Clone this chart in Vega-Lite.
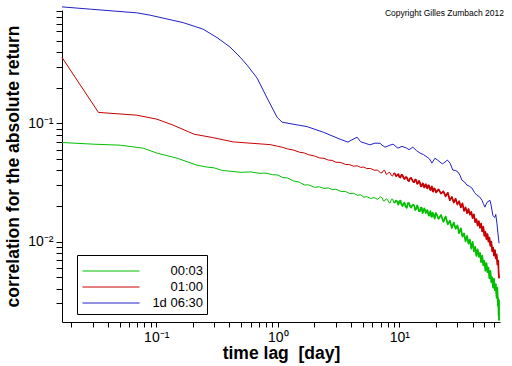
{
  "$schema": "https://vega.github.io/schema/vega-lite/v6.json",
  "width": 438,
  "height": 312,
  "autosize": {"type": "none"},
  "padding": {"left": 62, "top": 10, "right": 12, "bottom": 44},
  "background": "white",
  "config": {"view": {"stroke": null}, "font": "Liberation Sans"},
  "title": {"text": "Copyright Gilles Zumbach 2012", "anchor": "end", "frame": "group", "orient": "top", "fontSize": 8.5, "fontWeight": "normal", "font": "Liberation Sans", "color": "black", "baseline": "alphabetic", "offset": 0, "dy": 21, "dx": 4},
  "data": {"values": [
    {"s": "00:03", "t": 0.0168, "v": 0.069},
    {"s": "00:03", "t": 0.0303, "v": 0.0668},
    {"s": "00:03", "t": 0.0506, "v": 0.0655},
    {"s": "00:03", "t": 0.0781, "v": 0.0618},
    {"s": "00:03", "t": 0.102, "v": 0.056},
    {"s": "00:03", "t": 0.149, "v": 0.0508},
    {"s": "00:03", "t": 0.217, "v": 0.0443},
    {"s": "00:03", "t": 0.263, "v": 0.0427},
    {"s": "00:03", "t": 0.3, "v": 0.0421},
    {"s": "00:03", "t": 0.35, "v": 0.04},
    {"s": "00:03", "t": 0.4, "v": 0.0395},
    {"s": "00:03", "t": 0.5, "v": 0.0386},
    {"s": "00:03", "t": 0.6, "v": 0.0389},
    {"s": "00:03", "t": 0.7, "v": 0.0379},
    {"s": "00:03", "t": 0.8, "v": 0.038},
    {"s": "00:03", "t": 0.9, "v": 0.0369},
    {"s": "00:03", "t": 1.0, "v": 0.0366},
    {"s": "00:03", "t": 1.1, "v": 0.0348},
    {"s": "00:03", "t": 1.2, "v": 0.0346},
    {"s": "00:03", "t": 1.35, "v": 0.0326},
    {"s": "00:03", "t": 1.5, "v": 0.0319},
    {"s": "00:03", "t": 1.65, "v": 0.0302},
    {"s": "00:03", "t": 1.8, "v": 0.0302},
    {"s": "00:03", "t": 2.0, "v": 0.0288},
    {"s": "00:03", "t": 2.2, "v": 0.0291},
    {"s": "00:03", "t": 2.4, "v": 0.0282},
    {"s": "00:03", "t": 2.6, "v": 0.0285},
    {"s": "00:03", "t": 2.8, "v": 0.0276},
    {"s": "00:03", "t": 3.0, "v": 0.0278},
    {"s": "00:03", "t": 3.3, "v": 0.0266},
    {"s": "00:03", "t": 3.6, "v": 0.0266},
    {"s": "00:03", "t": 3.9, "v": 0.0255},
    {"s": "00:03", "t": 4.2, "v": 0.0257},
    {"s": "00:03", "t": 4.5, "v": 0.0247},
    {"s": "00:03", "t": 4.8, "v": 0.0249},
    {"s": "00:03", "t": 5.1, "v": 0.0238},
    {"s": "00:03", "t": 5.4, "v": 0.024},
    {"s": "00:03", "t": 5.8, "v": 0.0232},
    {"s": "00:03", "t": 6.2, "v": 0.0236},
    {"s": "00:03", "t": 6.6, "v": 0.0228},
    {"s": "00:03", "t": 7.0, "v": 0.02392},
    {"s": "00:03", "t": 7.2, "v": 0.02359},
    {"s": "00:03", "t": 7.4, "v": 0.02207},
    {"s": "00:03", "t": 7.6, "v": 0.02222},
    {"s": "00:03", "t": 7.8, "v": 0.02308},
    {"s": "00:03", "t": 8.0, "v": 0.02264},
    {"s": "00:03", "t": 8.2, "v": 0.02141},
    {"s": "00:03", "t": 8.4, "v": 0.02129},
    {"s": "00:03", "t": 8.6, "v": 0.02285},
    {"s": "00:03", "t": 8.8, "v": 0.02293},
    {"s": "00:03", "t": 9.0, "v": 0.02138},
    {"s": "00:03", "t": 9.2, "v": 0.02148},
    {"s": "00:03", "t": 9.4, "v": 0.02227},
    {"s": "00:03", "t": 9.6, "v": 0.02189},
    {"s": "00:03", "t": 9.8, "v": 0.02057},
    {"s": "00:03", "t": 10.0, "v": 0.02186},
    {"s": "00:03", "t": 10.2, "v": 0.02226},
    {"s": "00:03", "t": 10.4, "v": 0.02058},
    {"s": "00:03", "t": 10.6, "v": 0.01998},
    {"s": "00:03", "t": 10.8, "v": 0.02101},
    {"s": "00:03", "t": 11, "v": 0.02138},
    {"s": "00:03", "t": 11.25, "v": 0.01976},
    {"s": "00:03", "t": 11.5, "v": 0.01933},
    {"s": "00:03", "t": 11.75, "v": 0.02124},
    {"s": "00:03", "t": 12, "v": 0.0212},
    {"s": "00:03", "t": 12.25, "v": 0.01988},
    {"s": "00:03", "t": 12.5, "v": 0.0194},
    {"s": "00:03", "t": 12.75, "v": 0.02023},
    {"s": "00:03", "t": 13, "v": 0.02057},
    {"s": "00:03", "t": 13.25, "v": 0.02017},
    {"s": "00:03", "t": 13.5, "v": 0.01849},
    {"s": "00:03", "t": 13.75, "v": 0.01894},
    {"s": "00:03", "t": 14, "v": 0.02026},
    {"s": "00:03", "t": 14.25, "v": 0.01927},
    {"s": "00:03", "t": 14.5, "v": 0.01812},
    {"s": "00:03", "t": 14.75, "v": 0.01808},
    {"s": "00:03", "t": 15, "v": 0.01932},
    {"s": "00:03", "t": 15.25, "v": 0.01942},
    {"s": "00:03", "t": 15.5, "v": 0.01744},
    {"s": "00:03", "t": 15.75, "v": 0.01815},
    {"s": "00:03", "t": 16, "v": 0.0191},
    {"s": "00:03", "t": 16.25, "v": 0.01843},
    {"s": "00:03", "t": 16.5, "v": 0.01745},
    {"s": "00:03", "t": 16.75, "v": 0.01835},
    {"s": "00:03", "t": 17, "v": 0.01847},
    {"s": "00:03", "t": 17.25, "v": 0.01722},
    {"s": "00:03", "t": 17.5, "v": 0.01658},
    {"s": "00:03", "t": 17.75, "v": 0.01749},
    {"s": "00:03", "t": 18, "v": 0.01814},
    {"s": "00:03", "t": 18.25, "v": 0.01639},
    {"s": "00:03", "t": 18.5, "v": 0.01619},
    {"s": "00:03", "t": 18.75, "v": 0.01758},
    {"s": "00:03", "t": 19, "v": 0.01725},
    {"s": "00:03", "t": 19.25, "v": 0.01647},
    {"s": "00:03", "t": 19.5, "v": 0.01566},
    {"s": "00:03", "t": 19.75, "v": 0.01683},
    {"s": "00:03", "t": 20, "v": 0.01748},
    {"s": "00:03", "t": 21, "v": 0.01561},
    {"s": "00:03", "t": 22, "v": 0.01682},
    {"s": "00:03", "t": 23, "v": 0.01471},
    {"s": "00:03", "t": 24, "v": 0.01635},
    {"s": "00:03", "t": 25, "v": 0.01403},
    {"s": "00:03", "t": 26, "v": 0.01504},
    {"s": "00:03", "t": 27, "v": 0.01304},
    {"s": "00:03", "t": 28, "v": 0.01453},
    {"s": "00:03", "t": 29, "v": 0.01285},
    {"s": "00:03", "t": 30, "v": 0.01373},
    {"s": "00:03", "t": 31, "v": 0.01177},
    {"s": "00:03", "t": 32, "v": 0.01298},
    {"s": "00:03", "t": 33, "v": 0.01104},
    {"s": "00:03", "t": 34, "v": 0.01173},
    {"s": "00:03", "t": 35, "v": 0.01006},
    {"s": "00:03", "t": 36, "v": 0.01118},
    {"s": "00:03", "t": 37, "v": 0.00961},
    {"s": "00:03", "t": 38, "v": 0.01041},
    {"s": "00:03", "t": 39, "v": 0.00874},
    {"s": "00:03", "t": 40, "v": 0.00995},
    {"s": "00:03", "t": 41, "v": 0.00828},
    {"s": "00:03", "t": 42, "v": 0.00903},
    {"s": "00:03", "t": 43, "v": 0.00759},
    {"s": "00:03", "t": 44, "v": 0.00861},
    {"s": "00:03", "t": 45, "v": 0.00744},
    {"s": "00:03", "t": 46, "v": 0.00803},
    {"s": "00:03", "t": 47, "v": 0.0067},
    {"s": "00:03", "t": 48, "v": 0.00761},
    {"s": "00:03", "t": 49, "v": 0.0063},
    {"s": "00:03", "t": 50, "v": 0.00689},
    {"s": "00:03", "t": 51, "v": 0.00567},
    {"s": "00:03", "t": 52, "v": 0.00657},
    {"s": "00:03", "t": 53, "v": 0.00552},
    {"s": "00:03", "t": 54, "v": 0.00604},
    {"s": "00:03", "t": 55, "v": 0.00489},
    {"s": "00:03", "t": 56, "v": 0.00565},
    {"s": "00:03", "t": 57, "v": 0.00453},
    {"s": "00:03", "t": 58, "v": 0.00498},
    {"s": "00:03", "t": 59, "v": 0.00407},
    {"s": "00:03", "t": 60, "v": 0.00484},
    {"s": "00:03", "t": 61, "v": 0.00388},
    {"s": "00:03", "t": 62, "v": 0.00437},
    {"s": "00:03", "t": 63, "v": 0.00334},
    {"s": "00:03", "t": 64, "v": 0.00407},
    {"s": "00:03", "t": 64.5, "v": 0.00287},
    {"s": "00:03", "t": 65, "v": 0.00331},
    {"s": "00:03", "t": 65.5, "v": 0.00235},
    {"s": "00:03", "t": 65.8, "v": 0.0032},
    {"s": "00:03", "t": 66, "v": 0.00215},
    {"s": "01:00", "t": 0.0168, "v": 0.362},
    {"s": "01:00", "t": 0.0335, "v": 0.124},
    {"s": "01:00", "t": 0.0693, "v": 0.1175},
    {"s": "01:00", "t": 0.1013, "v": 0.1087},
    {"s": "01:00", "t": 0.138, "v": 0.0967},
    {"s": "01:00", "t": 0.2053, "v": 0.0811},
    {"s": "01:00", "t": 0.2944, "v": 0.0758},
    {"s": "01:00", "t": 0.43, "v": 0.0698},
    {"s": "01:00", "t": 0.866, "v": 0.0662},
    {"s": "01:00", "t": 1.0, "v": 0.0641},
    {"s": "01:00", "t": 1.1, "v": 0.0627},
    {"s": "01:00", "t": 1.2, "v": 0.0609},
    {"s": "01:00", "t": 1.35, "v": 0.0595},
    {"s": "01:00", "t": 1.5, "v": 0.0572},
    {"s": "01:00", "t": 1.65, "v": 0.0563},
    {"s": "01:00", "t": 1.8, "v": 0.0543},
    {"s": "01:00", "t": 2.0, "v": 0.0531},
    {"s": "01:00", "t": 2.2, "v": 0.0511},
    {"s": "01:00", "t": 2.4, "v": 0.0507},
    {"s": "01:00", "t": 2.6, "v": 0.049},
    {"s": "01:00", "t": 2.8, "v": 0.0487},
    {"s": "01:00", "t": 3.0, "v": 0.047},
    {"s": "01:00", "t": 3.3, "v": 0.0467},
    {"s": "01:00", "t": 3.6, "v": 0.045},
    {"s": "01:00", "t": 3.9, "v": 0.0448},
    {"s": "01:00", "t": 4.2, "v": 0.0435},
    {"s": "01:00", "t": 4.5, "v": 0.0438},
    {"s": "01:00", "t": 4.8, "v": 0.0425},
    {"s": "01:00", "t": 5.1, "v": 0.0428},
    {"s": "01:00", "t": 5.4, "v": 0.0415},
    {"s": "01:00", "t": 5.8, "v": 0.0416},
    {"s": "01:00", "t": 6.2, "v": 0.0402},
    {"s": "01:00", "t": 6.6, "v": 0.0403},
    {"s": "01:00", "t": 7.0, "v": 0.0383},
    {"s": "01:00", "t": 7.2, "v": 0.0382},
    {"s": "01:00", "t": 7.4, "v": 0.04},
    {"s": "01:00", "t": 7.6, "v": 0.0398},
    {"s": "01:00", "t": 7.8, "v": 0.037},
    {"s": "01:00", "t": 8.0, "v": 0.0377},
    {"s": "01:00", "t": 8.2, "v": 0.0385},
    {"s": "01:00", "t": 8.4, "v": 0.0382},
    {"s": "01:00", "t": 8.6, "v": 0.0362},
    {"s": "01:00", "t": 8.8, "v": 0.0359},
    {"s": "01:00", "t": 9.0, "v": 0.038},
    {"s": "01:00", "t": 9.2, "v": 0.0375},
    {"s": "01:00", "t": 9.4, "v": 0.0358},
    {"s": "01:00", "t": 9.6, "v": 0.0366},
    {"s": "01:00", "t": 9.8, "v": 0.0373},
    {"s": "01:00", "t": 10.0, "v": 0.0353},
    {"s": "01:00", "t": 10.2, "v": 0.0349},
    {"s": "01:00", "t": 10.4, "v": 0.0368},
    {"s": "01:00", "t": 10.6, "v": 0.0366},
    {"s": "01:00", "t": 10.8, "v": 0.0348},
    {"s": "01:00", "t": 11, "v": 0.0338},
    {"s": "01:00", "t": 11.25, "v": 0.0352},
    {"s": "01:00", "t": 11.5, "v": 0.035},
    {"s": "01:00", "t": 11.75, "v": 0.033},
    {"s": "01:00", "t": 12, "v": 0.0325},
    {"s": "01:00", "t": 12.25, "v": 0.0344},
    {"s": "01:00", "t": 12.5, "v": 0.0346},
    {"s": "01:00", "t": 12.75, "v": 0.0333},
    {"s": "01:00", "t": 13, "v": 0.032},
    {"s": "01:00", "t": 13.25, "v": 0.0319},
    {"s": "01:00", "t": 13.5, "v": 0.0336},
    {"s": "01:00", "t": 13.75, "v": 0.0332},
    {"s": "01:00", "t": 14, "v": 0.0308},
    {"s": "01:00", "t": 14.25, "v": 0.0313},
    {"s": "01:00", "t": 14.5, "v": 0.0327},
    {"s": "01:00", "t": 14.75, "v": 0.0316},
    {"s": "01:00", "t": 15, "v": 0.0294},
    {"s": "01:00", "t": 15.25, "v": 0.0295},
    {"s": "01:00", "t": 15.5, "v": 0.0311},
    {"s": "01:00", "t": 15.75, "v": 0.0308},
    {"s": "01:00", "t": 16, "v": 0.0287},
    {"s": "01:00", "t": 16.25, "v": 0.0298},
    {"s": "01:00", "t": 16.5, "v": 0.0306},
    {"s": "01:00", "t": 16.75, "v": 0.0287},
    {"s": "01:00", "t": 17, "v": 0.0283},
    {"s": "01:00", "t": 17.25, "v": 0.0299},
    {"s": "01:00", "t": 17.5, "v": 0.0299},
    {"s": "01:00", "t": 17.75, "v": 0.0282},
    {"s": "01:00", "t": 18, "v": 0.0273},
    {"s": "01:00", "t": 18.25, "v": 0.0285},
    {"s": "01:00", "t": 18.5, "v": 0.0293},
    {"s": "01:00", "t": 18.75, "v": 0.0269},
    {"s": "01:00", "t": 19, "v": 0.0265},
    {"s": "01:00", "t": 19.25, "v": 0.0282},
    {"s": "01:00", "t": 19.5, "v": 0.0281},
    {"s": "01:00", "t": 19.75, "v": 0.0275},
    {"s": "01:00", "t": 20, "v": 0.0261},
    {"s": "01:00", "t": 21, "v": 0.0277},
    {"s": "01:00", "t": 22, "v": 0.0255},
    {"s": "01:00", "t": 23, "v": 0.0266},
    {"s": "01:00", "t": 24, "v": 0.0242},
    {"s": "01:00", "t": 25, "v": 0.0259},
    {"s": "01:00", "t": 26, "v": 0.0224},
    {"s": "01:00", "t": 27, "v": 0.0239},
    {"s": "01:00", "t": 28, "v": 0.0214},
    {"s": "01:00", "t": 29, "v": 0.0231},
    {"s": "01:00", "t": 30, "v": 0.0206},
    {"s": "01:00", "t": 31, "v": 0.022},
    {"s": "01:00", "t": 32, "v": 0.0195},
    {"s": "01:00", "t": 33, "v": 0.0211},
    {"s": "01:00", "t": 34, "v": 0.0182},
    {"s": "01:00", "t": 35, "v": 0.0195},
    {"s": "01:00", "t": 36, "v": 0.0174},
    {"s": "01:00", "t": 37, "v": 0.0189},
    {"s": "01:00", "t": 38, "v": 0.0169},
    {"s": "01:00", "t": 39, "v": 0.0179},
    {"s": "01:00", "t": 40, "v": 0.0158},
    {"s": "01:00", "t": 41, "v": 0.017},
    {"s": "01:00", "t": 42, "v": 0.0146},
    {"s": "01:00", "t": 43, "v": 0.0155},
    {"s": "01:00", "t": 44, "v": 0.0137},
    {"s": "01:00", "t": 45, "v": 0.0149},
    {"s": "01:00", "t": 46, "v": 0.0131},
    {"s": "01:00", "t": 47, "v": 0.0142},
    {"s": "01:00", "t": 48, "v": 0.0122},
    {"s": "01:00", "t": 49, "v": 0.0134},
    {"s": "01:00", "t": 50, "v": 0.0112},
    {"s": "01:00", "t": 51, "v": 0.0121},
    {"s": "01:00", "t": 52, "v": 0.0105},
    {"s": "01:00", "t": 53, "v": 0.0116},
    {"s": "01:00", "t": 54, "v": 0.01},
    {"s": "01:00", "t": 55, "v": 0.0108},
    {"s": "01:00", "t": 56, "v": 0.0092},
    {"s": "01:00", "t": 57, "v": 0.01},
    {"s": "01:00", "t": 58, "v": 0.0083},
    {"s": "01:00", "t": 59, "v": 0.0089},
    {"s": "01:00", "t": 60, "v": 0.0076},
    {"s": "01:00", "t": 61, "v": 0.0085},
    {"s": "01:00", "t": 62, "v": 0.0072},
    {"s": "01:00", "t": 63, "v": 0.0078},
    {"s": "01:00", "t": 64, "v": 0.0064},
    {"s": "01:00", "t": 65, "v": 0.0069},
    {"s": "01:00", "t": 65.5, "v": 0.0054},
    {"s": "01:00", "t": 66, "v": 0.0049},
    {"s": "1d 06:30", "t": 0.0168, "v": 0.969},
    {"s": "1d 06:30", "t": 0.0287, "v": 0.927},
    {"s": "1d 06:30", "t": 0.0693, "v": 0.863},
    {"s": "1d 06:30", "t": 0.0893, "v": 0.824},
    {"s": "1d 06:30", "t": 0.1667, "v": 0.713},
    {"s": "1d 06:30", "t": 0.243, "v": 0.628},
    {"s": "1d 06:30", "t": 0.317, "v": 0.532},
    {"s": "1d 06:30", "t": 0.405, "v": 0.443},
    {"s": "1d 06:30", "t": 0.49, "v": 0.364},
    {"s": "1d 06:30", "t": 0.56, "v": 0.311},
    {"s": "1d 06:30", "t": 0.676, "v": 0.242},
    {"s": "1d 06:30", "t": 0.817, "v": 0.164},
    {"s": "1d 06:30", "t": 0.986, "v": 0.113},
    {"s": "1d 06:30", "t": 1.084, "v": 0.1026},
    {"s": "1d 06:30", "t": 1.336, "v": 0.0986},
    {"s": "1d 06:30", "t": 1.742, "v": 0.094},
    {"s": "1d 06:30", "t": 2.36, "v": 0.0844},
    {"s": "1d 06:30", "t": 3.25, "v": 0.0736},
    {"s": "1d 06:30", "t": 3.78, "v": 0.0695},
    {"s": "1d 06:30", "t": 4.0, "v": 0.072},
    {"s": "1d 06:30", "t": 4.49, "v": 0.0766},
    {"s": "1d 06:30", "t": 4.8, "v": 0.07},
    {"s": "1d 06:30", "t": 5.21, "v": 0.0681},
    {"s": "1d 06:30", "t": 5.7, "v": 0.066},
    {"s": "1d 06:30", "t": 6.31, "v": 0.0681},
    {"s": "1d 06:30", "t": 6.93, "v": 0.068},
    {"s": "1d 06:30", "t": 7.2, "v": 0.0655},
    {"s": "1d 06:30", "t": 7.62, "v": 0.063},
    {"s": "1d 06:30", "t": 8.2, "v": 0.065},
    {"s": "1d 06:30", "t": 8.86, "v": 0.0668},
    {"s": "1d 06:30", "t": 9.73, "v": 0.0618},
    {"s": "1d 06:30", "t": 10.5, "v": 0.064},
    {"s": "1d 06:30", "t": 11.5, "v": 0.0618},
    {"s": "1d 06:30", "t": 12.0, "v": 0.06},
    {"s": "1d 06:30", "t": 12.9, "v": 0.063},
    {"s": "1d 06:30", "t": 13.8, "v": 0.059},
    {"s": "1d 06:30", "t": 14.8, "v": 0.0561},
    {"s": "1d 06:30", "t": 15.8, "v": 0.0545},
    {"s": "1d 06:30", "t": 16.9, "v": 0.0519},
    {"s": "1d 06:30", "t": 17.7, "v": 0.05},
    {"s": "1d 06:30", "t": 18.5, "v": 0.0462},
    {"s": "1d 06:30", "t": 19.6, "v": 0.0508},
    {"s": "1d 06:30", "t": 20.6, "v": 0.049},
    {"s": "1d 06:30", "t": 21.6, "v": 0.0471},
    {"s": "1d 06:30", "t": 22.6, "v": 0.0455},
    {"s": "1d 06:30", "t": 23.7, "v": 0.0471},
    {"s": "1d 06:30", "t": 24.8, "v": 0.049},
    {"s": "1d 06:30", "t": 26.1, "v": 0.0462},
    {"s": "1d 06:30", "t": 27.5, "v": 0.0403},
    {"s": "1d 06:30", "t": 29, "v": 0.04},
    {"s": "1d 06:30", "t": 30.3, "v": 0.0388},
    {"s": "1d 06:30", "t": 31.5, "v": 0.0365},
    {"s": "1d 06:30", "t": 32.7, "v": 0.0331},
    {"s": "1d 06:30", "t": 34.3, "v": 0.032},
    {"s": "1d 06:30", "t": 35.9, "v": 0.0301},
    {"s": "1d 06:30", "t": 37.5, "v": 0.0295},
    {"s": "1d 06:30", "t": 39.5, "v": 0.0284},
    {"s": "1d 06:30", "t": 41.5, "v": 0.026},
    {"s": "1d 06:30", "t": 43.4, "v": 0.0247},
    {"s": "1d 06:30", "t": 45.5, "v": 0.024},
    {"s": "1d 06:30", "t": 47.8, "v": 0.0224},
    {"s": "1d 06:30", "t": 49, "v": 0.021},
    {"s": "1d 06:30", "t": 50.5, "v": 0.0196},
    {"s": "1d 06:30", "t": 52.5, "v": 0.0215},
    {"s": "1d 06:30", "t": 55.5, "v": 0.0224},
    {"s": "1d 06:30", "t": 57, "v": 0.02},
    {"s": "1d 06:30", "t": 58.7, "v": 0.0167},
    {"s": "1d 06:30", "t": 60.8, "v": 0.016},
    {"s": "1d 06:30", "t": 62, "v": 0.017},
    {"s": "1d 06:30", "t": 63.4, "v": 0.0143},
    {"s": "1d 06:30", "t": 64.6, "v": 0.0118},
    {"s": "1d 06:30", "t": 66, "v": 0.0097}
  ]},
  "encoding": {
    "x": {
      "field": "t", "type": "quantitative",
      "scale": {"type": "log", "domain": [0.0168, 67.2], "nice": false},
      "axis": {
        "title": "time lag\u00a0 [day]",
        "values": [0.02, 0.03, 0.04, 0.05, 0.06, 0.07, 0.08, 0.09, 0.1, 0.2, 0.3, 0.4, 0.5, 0.6, 0.7, 0.8, 0.9, 1, 2, 3, 4, 5, 6, 7, 8, 9, 10, 20, 30, 40, 50, 60],
        "labelExpr": "datum.value == 0.1 ? '10⁻¹' : datum.value == 1 ? '10⁰' : datum.value == 10 ? '10¹' : ''",
        "grid": false, "ticks": true, "tickSize": 5, "tickWidth": 1, "tickColor": "black", "tickOpacity": 1,
        "domain": true, "domainColor": "black", "domainWidth": 1,
        "labelColor": "black", "labelFont": "Liberation Sans", "labelFontSize": 14, "labelPadding": 3,
        "labelOverlap": false, "labelFlush": false,
        "titleFont": "Liberation Sans", "titleFontSize": 17.5, "titleFontWeight": "bold", "titleColor": "black",
        "titleBaseline": "alphabetic", "titleY": 36.5, "titleX": 219
      }
    },
    "y": {
      "field": "v", "type": "quantitative",
      "scale": {"type": "log", "domain": [0.00209, 0.912], "nice": false},
      "axis": {
        "title": "correlation for the absolute return",
        "values": [0.003, 0.004, 0.005, 0.006, 0.007, 0.008, 0.009, 0.01, 0.02, 0.03, 0.04, 0.05, 0.06, 0.07, 0.08, 0.09, 0.1, 0.2, 0.3, 0.4, 0.5, 0.6, 0.7, 0.8, 0.9],
        "labelExpr": "datum.value == 0.01 ? '10⁻²' : datum.value == 0.1 ? '10⁻¹' : ''",
        "grid": false, "ticks": true, "tickSize": 6, "tickWidth": 1, "tickColor": "black", "tickOpacity": 1,
        "domain": true, "domainColor": "black", "domainWidth": 1,
        "labelColor": "black", "labelFont": "Liberation Sans", "labelFontSize": 14, "labelPadding": 3,
        "labelOverlap": false, "labelFlush": false,
        "titleFont": "Liberation Sans", "titleFontSize": 17.5, "titleFontWeight": "bold", "titleColor": "black",
        "titleBaseline": "alphabetic", "titleAngle": -90, "titleX": -43.5, "titleY": 156, "titleAlign": "center"
      }
    },
    "color": {
      "field": "s", "type": "nominal",
      "scale": {"domain": ["00:03", "01:00", "1d 06:30"], "range": ["#00c000", "#c80000", "#2020c8"]},
      "legend": {
        "orient": "none", "legendX": 15, "legendY": 245, "title": " ", "titleFontSize": 3, "titlePadding": 2.5,
        "strokeColor": "black", "fillColor": "white", "padding": 4, "cornerRadius": 0,
        "symbolType": "M-1,0H10.4", "symbolSize": 100, "symbolStrokeWidth": 1,
        "labelFont": "Liberation Sans", "labelFontSize": 13, "labelColor": "black",
        "labelAlign": "right", "labelOffset": 109, "rowPadding": 2
      }
    }
  },
  "layer": [
    {"mark": {"type": "line", "strokeWidth": 1, "clip": false}},
    {"transform": [{"filter": "datum.t >= 9 && datum.s != '1d 06:30'"}], "mark": {"type": "line", "strokeWidth": 1.7, "strokeJoin": "round", "clip": false}}
  ]
}
